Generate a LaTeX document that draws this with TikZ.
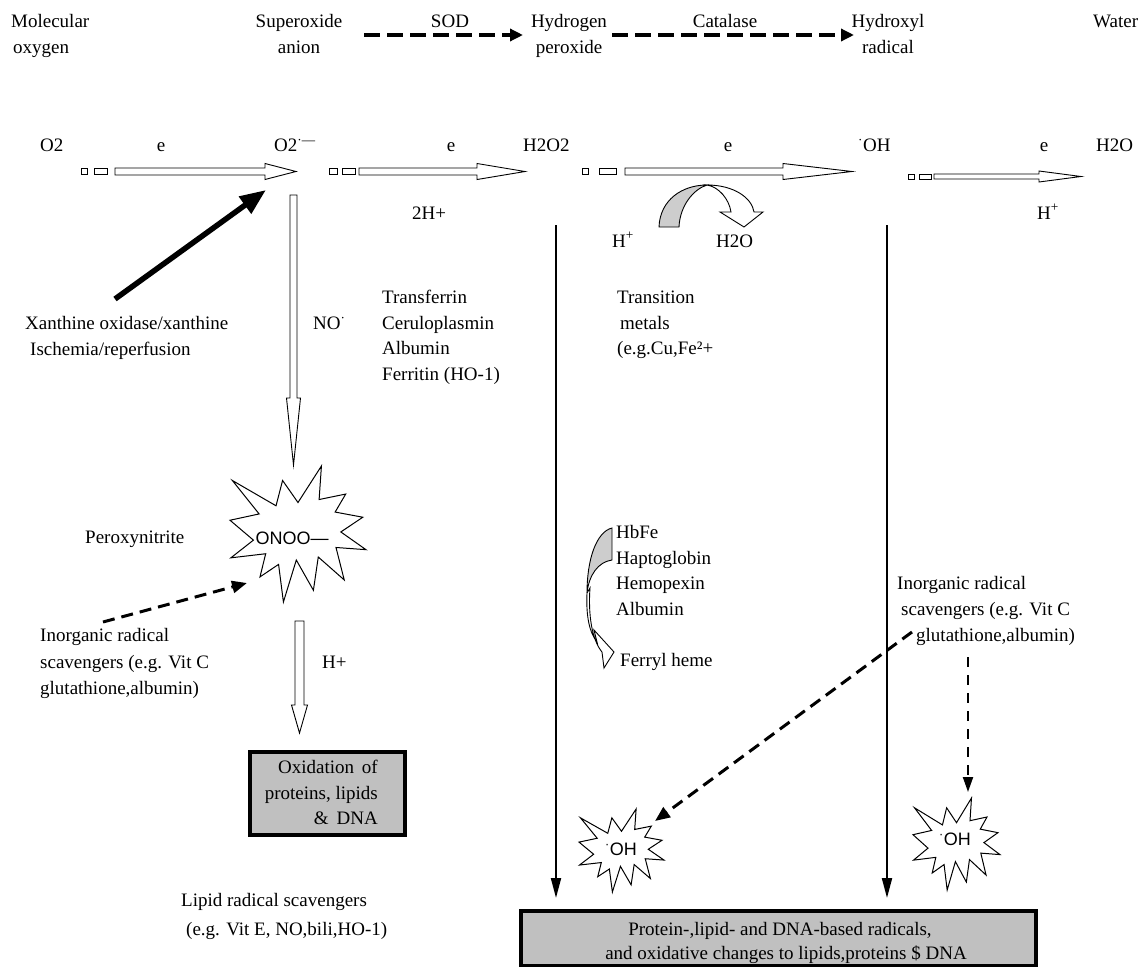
\documentclass[tikz,border=0pt]{standalone}
\usepackage{fontspec}
\setmainfont{Liberation Serif}
\newfontfamily\burstfont{Liberation Sans}
\usetikzlibrary{arrows.meta}
\definecolor{boxgray}{RGB}{192,192,192}
\definecolor{bandgray}{RGB}{205,205,205}

% horizontal block arrow: x0, x1 (tip), y, shaft half height, head half height, head length
\newcommand\rblock[6]{%
  \draw[hollow] (#1,#3-#4) -- (#2-#6,#3-#4) -- (#2-#6,#3-#5) -- (#2,#3)
     -- (#2-#6,#3+#5) -- (#2-#6,#3+#4) -- (#1,#3+#4) -- cycle;}
% vertical block arrow pointing down: y0, y1 (tip), x, shaft half width, head half width, head length
\newcommand\dblock[6]{%
  \draw[hollow] (#3-#4,#1) -- (#3-#4,#2-#6) -- (#3-#5,#2-#6) -- (#3,#2)
     -- (#3+#5,#2-#6) -- (#3+#4,#2-#6) -- (#3+#4,#1) -- cycle;}
% explosion outline in a box: x0, y0, width, height
\newcommand\burst[4]{%
  \begin{scope}[shift={(#1,#2)}, x=#3/1000*1bp, y=-#4/1000*1bp]
  \draw[burstline] (500,268.5) -- (672.3,0) -- (655.3,246.5) -- (850.9,206.3)
    -- (773.2,338.7) -- (976.7,376.7) -- (815.1,485) -- (1000,615.3)
    -- (779.5,599.2) -- (840,837.7) -- (649.1,669.3) -- (613.3,913.8)
    -- (487.6,691.4) -- (392.8,1000) -- (357.2,723.5) -- (220.5,815.6)
    -- (262.4,645.2) -- (6.3,675.3) -- (172.3,545.1) -- (0,398.8)
    -- (214.2,352.6) -- (17.1,106.3) -- (338.5,292.6) -- (386.7,106.3) -- cycle;
  \end{scope}}

\begin{document}
\begin{tikzpicture}[x=1bp,y=-1bp,
  txt/.style={font=\fontsize{19bp}{25.5bp}\selectfont, inner sep=0pt, anchor=base west, align=left},
  ctxt/.style={txt, anchor=base, align=center},
  hollow/.style={draw=black, fill=white, line width=0.9bp, line join=miter},
  burstline/.style={draw=black, fill=white, line width=1bp, line join=miter},
  thinarrow/.style={line width=2bp, -{Triangle[length=20bp,width=10bp]}},
  bigarrow/.style={line width=5.5bp, -{Triangle[length=26bp,width=20bp]}},
  dasharrow/.style={line width=4.5bp, dash pattern=on 16bp off 7bp, -{Triangle[length=13bp,width=12bp]}},
  dashthin/.style={line width=3bp, dash pattern=on 12bp off 7bp, -{Triangle[length=15bp,width=12bp]}},
  dashfine/.style={line width=2bp, dash pattern=on 10bp off 8bp, -{Triangle[length=15bp,width=10bp]}},
  resultbox/.style={draw=black, line width=4.5bp, fill=boxgray},
  bursttext/.style={font=\burstfont\fontsize{18bp}{20bp}\selectfont, inner sep=0pt}
]
\useasboundingbox (0,0) rectangle (1144,967);

% multi-line nodes are placed by the baseline of their last line

% ---- species names along the top ----
\node[txt] (molox) at (11,53) {Molecular\\\hspace{2bp}oxygen};
\node[ctxt] (supan) at (299,53) {Superoxide\\anion};
\node[ctxt] (sod) at (450,27.5) {SOD};
\node[ctxt] (hydper) at (569,53) {Hydrogen\\peroxide};
\node[ctxt] (catal) at (725,27.5) {Catalase};
\node[ctxt] (hydrad) at (888,53) {Hydroxyl\\radical};
\node[txt] (water) at (1093,27.5) {Water};
\coordinate (sodA) at (364,35);
\coordinate (sodB) at (523,35);
\coordinate (catA) at (612,35);
\coordinate (catB) at (854,35);
\draw[dasharrow] (sodA) -- (sodB);
\draw[dasharrow] (catA) -- (catB);

% ---- one-electron reduction chain ----
\node[txt] (o2) at (40,151.5) {O2};
\node[txt] (o2m) at (274,151.5) {O2\textsuperscript{·—}};
\node[txt] (h2o2) at (523,151.5) {H2O2};
\node[txt] (oh) at (858,151.5) {\textsuperscript{·}OH};
\node[txt] (h2o) at (1096,151.5) {H2O};
\node[ctxt] (e1) at (161,151.5) {e};
\node[ctxt] (e2) at (451,151.5) {e};
\node[ctxt] (e3) at (728,151.5) {e};
\node[ctxt] (e4) at (1044,151.5) {e};
\node[txt] (twoh) at (412,219.5) {2H+};
\node[txt] (hplus4) at (1037,219) {H\textsuperscript{+}};
\node[txt] (hplus3) at (612,247) {H\textsuperscript{+}};
\node[txt] (h2o3) at (716,247) {H2O};

\draw[hollow] (81,168) rectangle (87,174);
\draw[hollow] (94,168) rectangle (107,174);
\rblock{115}{296}{171.5}{3.5}{8}{31}
\draw[hollow] (329,168) rectangle (337,174);
\draw[hollow] (342,168) rectangle (355,174);
\rblock{359}{525}{171.5}{3.5}{8}{48}
\draw[hollow] (582,168) rectangle (588,174);
\draw[hollow] (599,168) rectangle (616,174);
\rblock{625}{852}{171.5}{3.5}{8}{69}
\draw[hollow] (908,174) rectangle (914,179);
\draw[hollow] (919,174) rectangle (931,179);
\rblock{934}{1081}{176.5}{2.5}{5.5}{42}

% catalase side reaction: curved arrow over the third step
\fill[bandgray, draw=black, line width=0.9bp]
  (659,227) .. controls (660,200) and (682,185) .. (707,185)
  .. controls (694,189) and (680,205) .. (679,227) -- cycle;
\draw[hollow]
  (707,185) .. controls (734,185) and (752,198) .. (754,212)
  -- (763,212) -- (744,227) -- (720,212) -- (731,212)
  .. controls (729,199) and (719,187) .. (707,185) -- cycle;

% ---- superoxide branch ----
\node[txt] (xanth) at (25,355) {Xanthine oxidase/xanthine\\\hspace{5bp}Ischemia/reperfusion};
\coordinate (xoA) at (115,299);
\coordinate (xoB) at (266,190);
\draw[bigarrow] (xoA) -- (xoB);
\dblock{195}{465}{293.5}{3.5}{7}{67}
\node[txt] (no) at (313,329.5) {NO\textsuperscript{·}};
\node[txt] (carriers) at (382,380) {Transferrin\\Ceruloplasmin\\Albumin\\Ferritin (HO-1)};
\node[txt] (metals) at (617,354.5) {Transition\\\hspace{3bp}metals\\(e.g.Cu,Fe²+};

% peroxynitrite burst
\burst{230}{466}{136}{136}
\node[bursttext] (onoo) at (292,538) {ONOO—};
\node[txt] (peroxy) at (85,543) {Peroxynitrite};
\node[txt, font=\fontsize{19bp}{26.5bp}\selectfont] (inorgL) at (40,694.5) {Inorganic radical\\scavengers (e.g. Vit C\\glutathione,albumin)};
\coordinate (scL) at (103,622);
\coordinate (scLend) at (247,583);
\draw[dashthin] (scL) -- (scLend);
\node[txt] (hpl) at (322,668) {H+};
\dblock{621}{733}{299.5}{4.5}{8}{28}

\draw[resultbox] (250,752) rectangle (405,835);
\node[txt, anchor=base east, align=right] (oxid) at (378,824.5) {Oxidation\, of\\proteins, lipids\\\&\, DNA};

\node[txt, font=\fontsize{19bp}{29bp}\selectfont] (lipid) at (181,935.5) {Lipid radical scavengers\\\hspace{5bp}(e.g. Vit E, NO,bili,HO-1)};

% ---- heme branch ----
\fill[bandgray, draw=black, line width=0.9bp]
  (612,528) .. controls (596,532) and (587,560) .. (587,593)
  .. controls (589,575) and (598,562) .. (612,560) -- cycle;
\draw[hollow]
  (587,593) .. controls (586,615) and (589,632) .. (597,642)
  -- (594,630) -- (614,652) -- (604,668) -- (602,652)
  .. controls (592,640) and (588,615) .. (590,588) -- cycle;
\node[txt] (heme) at (616,615) {HbFe\\Haptoglobin\\Hemopexin\\Albumin};
\node[txt] (ferryl) at (620,666) {Ferryl heme};

% ---- hydroxyl radical branch ----
\node[txt, font=\fontsize{19bp}{26bp}\selectfont] (inorgR) at (897,641.5) {Inorganic radical\\\hspace{4bp}scavengers (e.g. Vit C\\\hspace{19bp}glutathione,albumin)};
\coordinate (h2o2down) at (556,225);
\coordinate (h2o2end) at (556,898);
\coordinate (ohdown) at (887,225);
\coordinate (ohend) at (887,898);
\draw[thinarrow] (h2o2down) -- (h2o2end);
\draw[thinarrow] (ohdown) -- (ohend);

\burst{579}{809}{85}{83}
\node[bursttext] (oh1) at (621,849) {\textsuperscript{·}OH};
\burst{913}{798}{87}{92}
\node[bursttext] (oh2) at (955,839) {\textsuperscript{·}OH};

\coordinate (scR) at (912,632);
\coordinate (scRend) at (655,821);
\draw[dashthin] (scR) -- (scRend);
\coordinate (scV) at (968,657);
\coordinate (scVend) at (968,792);
\draw[dashfine] (scV) -- (scVend);

\draw[resultbox] (521,911) rectangle (1036,966);
\node[ctxt, font=\fontsize{19bp}{24bp}\selectfont] (radicals) at (780,959.5) {Protein-,lipid- and DNA-based radicals,\\\hspace{12bp}and oxidative changes to lipids,proteins \$ DNA};
\end{tikzpicture}
\end{document}
